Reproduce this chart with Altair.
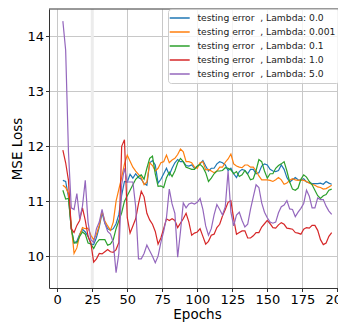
import altair as alt
import pandas as pd

epochs = list(range(4, 198, 2))
lambdas = ["0.0", "0.001", "0.1", "1.0", "5.0"]
colors = ["#1f77b4", "#ff7f0e", "#2ca02c", "#d62728", "#9467bd"]
x_ticks = [0, 25, 50, 75, 100, 125, 150, 175, 200]
y_ticks = [10, 11, 12, 13, 14]
highlight_epochs = [25]

loss_0_0 = [
    11.38, 11.36, 11.08, 10.50, 10.24, 10.27, 10.40, 10.49, 10.44, 10.36,
    10.22, 10.21, 10.34, 10.53, 10.79, 10.60, 10.50, 10.47, 10.50, 10.59,
    10.76, 11.11, 11.36, 11.35, 11.49, 11.42, 11.50, 11.43, 11.40, 11.32,
    11.29, 11.70, 11.74, 11.66, 11.33, 11.40, 11.50, 11.60, 11.48, 11.60,
    11.70, 11.76, 11.72, 11.72, 11.65, 11.64, 11.66, 11.60, 11.63, 11.68,
    11.74, 11.64, 11.55, 11.60, 11.60, 11.68, 11.72, 11.70, 11.66, 11.56,
    11.60, 11.50, 11.43, 11.54, 11.58, 11.56, 11.50, 11.58, 11.58, 11.50,
    11.52, 11.64, 11.68, 11.66, 11.58, 11.55, 11.54, 11.56, 11.66, 11.58,
    11.43, 11.35, 11.39, 11.43, 11.39, 11.38, 11.41, 11.35, 11.34, 11.32,
    11.32, 11.32, 11.33, 11.31, 11.36, 11.33, 11.31,
]
loss_0_001 = [
    11.29, 11.25, 11.14, 10.56, 10.05, 10.15, 10.38, 10.52, 10.50, 10.51,
    10.38, 10.30, 10.40, 10.56, 10.82, 10.64, 10.55, 10.47, 10.62, 11.00,
    11.22, 11.43, 11.68, 11.84, 11.73, 11.62, 11.55, 11.49, 11.43, 11.30,
    11.35, 11.70, 11.65, 11.55, 11.60, 11.70, 11.72, 11.84, 11.70, 11.75,
    11.78, 11.85, 11.95, 11.90, 11.72, 11.72, 11.70, 11.62, 11.60, 11.70,
    11.72, 11.57, 11.58, 11.55, 11.52, 11.55, 11.62, 11.62, 11.71, 11.77,
    11.86, 11.68, 11.64, 11.62, 11.61, 11.66, 11.66, 11.62, 11.62, 11.55,
    11.46, 11.39, 11.39, 11.39, 11.38, 11.36, 11.39, 11.43, 11.39, 11.31,
    11.33, 11.38, 11.41, 11.39, 11.38, 11.39, 11.38, 11.36, 11.33, 11.31,
    11.29, 11.26, 11.25, 11.22, 11.23, 11.26, 11.29,
]
loss_0_1 = [
    11.20, 11.04, 11.05, 10.50, 10.24, 10.24, 10.36, 10.44, 10.40, 10.24,
    10.22, 10.14, 10.24, 10.30, 10.30, 10.30, 10.20, 10.22, 10.30, 10.50,
    10.65, 10.79, 11.00, 11.10, 11.20, 11.30, 11.40, 11.45, 11.48, 11.40,
    11.60, 11.78, 11.82, 11.50, 11.27, 11.28, 11.25, 11.43, 11.53, 11.45,
    11.55, 11.70, 11.78, 11.72, 11.62, 11.60, 11.58, 11.58, 11.64, 11.67,
    11.62, 11.52, 11.36, 11.42, 11.50, 11.55, 11.55, 11.56, 11.61, 11.60,
    11.57, 11.50, 11.54, 11.45, 11.48, 11.56, 11.49, 11.39, 11.41, 11.56,
    11.76, 11.72, 11.55, 11.42, 11.50, 11.50, 11.60, 11.65, 11.68, 11.72,
    11.55, 11.35, 11.22, 11.20, 11.24, 11.40, 11.48, 11.44, 11.36, 11.30,
    11.20, 11.10, 11.05, 11.10, 11.12, 11.20, 11.22,
]
loss_1_0 = [
    11.93, 11.70, 11.38, 10.50, 10.43, 10.56, 10.65, 10.88, 10.65, 10.36,
    10.24, 9.89, 9.95, 10.05, 10.04, 10.08, 10.12, 10.08, 10.07, 10.12,
    10.25, 12.00, 12.12, 10.70, 10.42, 10.55, 10.68, 10.95, 11.18, 11.08,
    10.78, 10.66, 10.58, 10.45, 10.22, 10.33, 10.50, 10.68, 10.65, 10.68,
    10.65, 10.52, 10.60, 10.68, 10.78, 10.62, 10.38, 10.42, 10.44, 10.50,
    10.36, 10.22, 10.27, 10.38, 10.40, 10.52, 10.58, 10.73, 10.85, 10.98,
    11.01, 10.68, 10.40, 10.43, 10.46, 10.46, 10.33, 10.33, 10.37, 10.43,
    10.43, 10.53, 10.59, 10.65, 10.59, 10.52, 10.51, 10.57, 10.61, 10.58,
    10.51, 10.50, 10.49, 10.43, 10.42, 10.40, 10.49, 10.52, 10.51, 10.56,
    10.56, 10.47, 10.30, 10.21, 10.24, 10.36, 10.43,
]
loss_5_0 = [
    14.28, 13.75, 11.90, 10.88, 10.85, 11.14, 10.68, 10.91, 11.38, 10.62,
    10.30, 10.25, 10.50, 10.62, 10.85, 10.60, 10.45, 10.40, 10.25, 9.70,
    10.05, 11.30, 11.60, 11.35, 11.35, 11.35, 10.90, 9.95, 9.95, 10.05,
    10.20, 10.10, 10.00, 9.88, 10.00, 10.25, 10.45, 10.70, 11.22, 10.95,
    10.78, 9.98, 10.45, 10.97, 10.88, 10.95, 10.97, 10.95, 10.98, 11.05,
    10.85, 10.55, 10.38, 10.50, 10.75, 10.94, 10.85, 10.75, 10.90, 11.55,
    10.80, 10.55, 10.75, 10.80, 10.65, 10.53, 10.58, 10.85, 11.08, 11.30,
    11.25, 10.97, 10.80, 10.70, 10.62, 10.60, 10.62, 10.79, 10.90, 10.93,
    11.01, 10.86, 10.85, 10.72, 10.80, 10.87, 10.96, 11.20, 11.09, 10.88,
    10.88, 11.06, 11.03, 11.03, 10.91, 10.82, 10.76,
]

series = [loss_0_0, loss_0_001, loss_0_1, loss_1_0, loss_5_0]
labels = ["testing error\u00a0\u00a0, Lambda: " + l for l in lambdas]

rows = []
for lab, vals in zip(labels, series):
    for e, v in zip(epochs, vals):
        rows.append({"Epochs": e, "MSE Loss": v, "series": lab})
df = pd.DataFrame(rows)

W, H = 289, 279
FONT = "DejaVu Sans"

x_scale = alt.Scale(domain=[-5.9, 200.5], nice=False, zero=False)
y_scale = alt.Scale(domain=[9.42, 14.5], nice=False, zero=False)
x_axis = alt.Axis(values=x_ticks, title="Epochs", labelFlush=False,
                  titleX=148, titleY=30, titleBaseline="alphabetic",
                  titleAlign="center", titleAnchor="start")
y_axis = alt.Axis(values=y_ticks, title="MSE Loss", titleX=-32, titleY=H / 2,
                  titleAngle=-90, titleBaseline="middle", titleAlign="center",
                  titleAnchor="start")

band = alt.Chart(pd.DataFrame({"Epochs": highlight_epochs})).mark_rule(
    color="#ececec", strokeWidth=3
).encode(x=alt.X("Epochs:Q", scale=x_scale, axis=x_axis))

lines = alt.Chart(df).mark_line(strokeWidth=1.2, clip=True).encode(
    x=alt.X("Epochs:Q", scale=x_scale, axis=x_axis),
    y=alt.Y("MSE Loss:Q", scale=y_scale, axis=y_axis),
    color=alt.Color(
        "series:N",
        scale=alt.Scale(domain=labels, range=colors),
        legend=alt.Legend(
            title=None, orient="none", legendX=119, legendY=0,
            symbolType="M-1.46,0H2.54", symbolSize=100, symbolStrokeWidth=1.5,
            labelFontSize=9.2, labelFont=FONT, labelColor="#222222",
            labelOffset=14.4, rowPadding=2, padding=3,
            fillColor="rgba(255,255,255,0.8)", strokeColor="#cccccc",
            cornerRadius=3, labelLimit=300,
        ),
    ),
)

top_spine = alt.Chart(pd.DataFrame({"k": [0]})).mark_rule(
    color="#333333", strokeWidth=1
).encode(x=alt.value(0), x2=alt.value(W), y=alt.value(0))

chart = alt.layer(band, lines, top_spine).properties(
    width=W, height=H,
    autosize=alt.AutoSizeParams(type="none"),
    padding={"left": 41, "top": 1, "right": 0, "bottom": 34},
).configure_view(stroke=None).configure_axis(
    labelFont=FONT, titleFont=FONT, labelFontSize=13, titleFontSize=13.5,
    labelColor="black", titleColor="black", titleFontWeight="normal",
    domainColor="#333333", tickColor="#333333", tickSize=3.5,
    gridColor="#c8c8c8", gridWidth=1, labelPadding=2,
)

chart.save("out.html", embed_options={"renderer": "svg", "actions": False})
